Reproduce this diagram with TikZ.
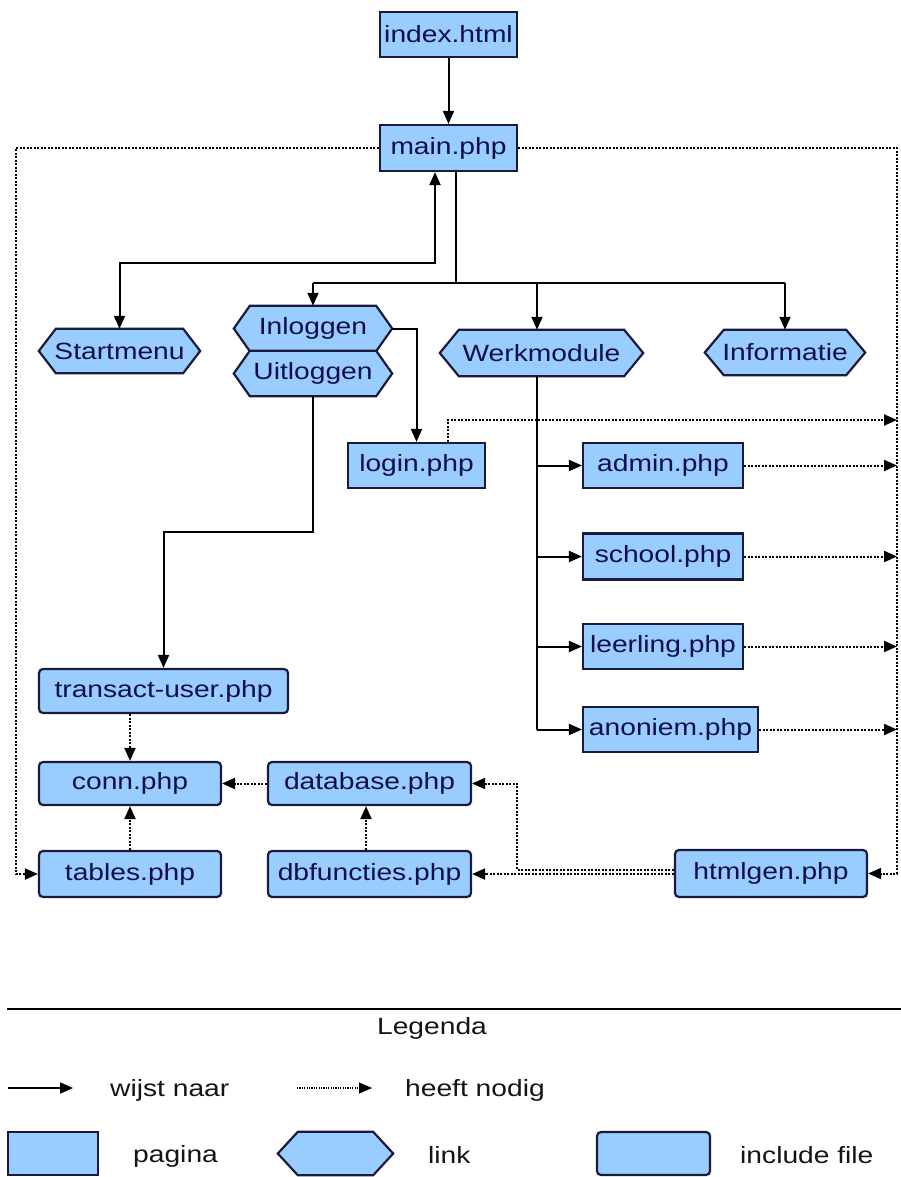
\documentclass[tikz,border=0pt]{standalone}
\usepackage{fontspec}
\setmainfont[FakeStretch=1.2]{Liberation Sans}
\usetikzlibrary{arrows.meta,backgrounds}
\definecolor{boxfill}{RGB}{153,204,255}
\definecolor{boxline}{RGB}{26,26,60}
\definecolor{boxtext}{RGB}{16,16,70}
\definecolor{legtext}{RGB}{20,20,20}
\tikzset{
  lbl/.style={font=\fontsize{23.5}{26}\selectfont, text=boxtext, inner sep=0pt},
  pagebox/.style={lbl, draw=boxline, fill=boxfill, line width=2.2pt, minimum height=45pt},
  incbox/.style={pagebox, rounded corners=4pt},
  linkbox/.style={lbl, minimum height=45pt},
  hexshape/.style={draw=boxline, fill=boxfill, line width=2.2pt, line join=miter},
  wire/.style={draw=black, line width=2pt},
  dep/.style={draw=black, line width=2pt, dash pattern=on 2pt off 1.5pt},
  tipend/.style={-{Triangle[length=13pt,width=11pt]}},
  tipboth/.style={{Triangle[length=13pt,width=11pt]}-{Triangle[length=13pt,width=11pt]}},
  legl/.style={font=\fontsize{23.5}{26}\selectfont, text=legtext, inner sep=0pt}
}
\newcommand{\hexpath}[2]{%
  \path[hexshape] (#1.west) -- ([xshift=#2]#1.north west) -- ([xshift=-#2]#1.north east)
    -- (#1.east) -- ([xshift=-#2]#1.south east) -- ([xshift=#2]#1.south west) -- cycle;}
\begin{document}
\begin{tikzpicture}[x=1pt,y=-1pt]
\useasboundingbox (0,0) rectangle (901,1177);

% page boxes
\node[pagebox, minimum width=137pt] (index) at (448.5,34.5) {index.html};
\node[pagebox, minimum width=137pt, minimum height=46pt] (main) at (448.5,148) {main.php};
\node[pagebox, minimum width=137pt] (login) at (416.5,465.5) {login.php};
\node[pagebox, minimum width=160pt] (admin) at (663,465.5) {admin.php};
\node[pagebox, minimum width=160pt, minimum height=46pt] (school) at (663,556.5) {school.php};
\node[pagebox, minimum width=160pt] (leerling) at (663,646.5) {leerling.php};
\node[pagebox, minimum width=175pt] (anoniem) at (670.5,729.5) {anoniem.php};

% include files
\node[incbox, minimum width=249pt, minimum height=44pt] (transact) at (163.5,691) {transact-user.php};
\node[incbox, minimum width=182pt, minimum height=43pt] (conn) at (130,783.5) {conn.php};
\node[incbox, minimum width=203pt, minimum height=43pt] (database) at (369.5,783.5) {database.php};
\node[incbox, minimum width=182pt, minimum height=46pt] (tables) at (130,874) {tables.php};
\node[incbox, minimum width=203pt, minimum height=46pt] (dbfun) at (369.5,874) {dbfuncties.php};
\node[incbox, minimum width=192pt, minimum height=47pt] (htmlgen) at (771,873.5) {htmlgen.php};

% links (hexagons)
\node[linkbox, minimum width=161pt, minimum height=44pt] (start) at (119.5,351) {Startmenu};
\node[linkbox, minimum width=158pt] (inl) at (313,328.5) {Inloggen};
\node[linkbox, minimum width=158pt] (uit) at (313,373.5) {Uitloggen};
\node[linkbox, minimum width=203pt, minimum height=46pt] (werk) at (541.5,353) {Werkmodule};
\node[linkbox, minimum width=160pt] (info) at (785,352.5) {Informatie};

\begin{scope}[on background layer]
  \hexpath{start}{17pt}
  \hexpath{inl}{16pt}
  \hexpath{uit}{16pt}
  \hexpath{werk}{19pt}
  \hexpath{info}{19pt}
\end{scope}

% helper coordinates
\coordinate (bus) at (456,283);
\coordinate (sy) at (0,263);
\coordinate (uy) at (0,532);
\coordinate (wx) at (537,0);
\coordinate (Lx) at (16,0);
\coordinate (Rx) at (897,0);
\coordinate (ly) at (0,420);
\coordinate (hx) at (517,0);

% solid connectors
\draw[wire, tipend] (index) -- (main);
\draw[wire, tipboth] (start.north) -- (start.north |- sy) -| ([xshift=-13.5pt]main.south);
\draw[wire] ([xshift=7.5pt]main.south) -- (bus);
\draw[wire] (inl.north |- bus) -- (info.north |- bus);
\draw[wire, tipend] (inl.north |- bus) -- (inl.north);
\draw[wire, tipend] (wx |- bus) -- (wx |- werk.north);
\draw[wire, tipend] (info.north |- bus) -- (info.north);
\draw[wire, tipend] (inl.east) -| (login.north);
\draw[wire, tipend] (uit.south) -- (uit.south |- uy) -| (transact.north);
\draw[wire] (wx |- werk.south) -- (wx |- anoniem.west);
\draw[wire, tipend] (wx |- admin.west) -- (admin.west);
\draw[wire, tipend] (wx |- school.west) -- (school.west);
\draw[wire, tipend] (wx |- leerling.west) -- (leerling.west);
\draw[wire, tipend] (wx |- anoniem.west) -- (anoniem.west);

% dotted connectors (heeft nodig)
\draw[dep, tipend] (main.west) -- (main.west -| Lx) -- (Lx |- tables.west) -- (tables.west);
\draw[dep, tipend] (main.east) -- (main.east -| Rx) -- (Rx |- htmlgen.east) -- (htmlgen.east);
\draw[dep, tipend] ([xshift=31.5pt]login.north) -- ([xshift=31.5pt]login.north |- ly) -- (Rx |- ly);
\draw[dep, tipend] (admin.east) -- (Rx |- admin.east);
\draw[dep, tipend] (school.east) -- (Rx |- school.east);
\draw[dep, tipend] (leerling.east) -- (Rx |- leerling.east);
\draw[dep, tipend] (anoniem.east) -- (Rx |- anoniem.east);
\draw[dep, tipend] (conn.north |- transact.south) -- (conn.north);
\draw[dep, tipend] (tables.north) -- (conn.south);
\draw[dep, tipend] (database.west) -- (conn.east);
\draw[dep, tipend] ([xshift=-3.5pt]dbfun.north) -- ([xshift=-3.5pt]database.south);
\draw[dep, tipend] ([yshift=4pt]htmlgen.west) -- ([yshift=4pt]htmlgen.west -| hx) -- (hx |- database.east) -- (database.east);
\draw[dep, tipend] (htmlgen.west |- dbfun.east) -- (dbfun.east);

% legend
\coordinate (lg1) at (7,1009);
\coordinate (lg2) at (901,1009);
\draw[line width=2pt] (lg1) -- (lg2);
\node[legl] (legenda) at (432,1028) {Legenda};

\coordinate (a1) at (8,1088);
\coordinate (a2) at (73,1088);
\draw[wire, line width=1.8pt, tipend] (a1) -- (a2);
\node[legl, anchor=west] (wn) at (110,1090) {wijst naar};
\coordinate (b1) at (297,1088);
\coordinate (b2) at (372,1088);
\draw[dep, line width=1.2pt, dash pattern=on 1.2pt off 1.2pt, tipend] (b1) -- (b2);
\node[legl, anchor=west] (hn) at (405,1090) {heeft nodig};

\node[pagebox, minimum width=90pt, minimum height=43pt] (lpage) at (53,1153.5) {};
\node[legl, anchor=west] (lpt) at (133,1156) {pagina};
\node[linkbox, minimum width=115pt, minimum height=43pt] (llink) at (335.5,1153.5) {};
\begin{scope}[on background layer]
  \hexpath{llink}{20pt}
\end{scope}
\node[legl, anchor=west] (llt) at (428,1155) {link};
\node[incbox, minimum width=113pt, minimum height=43pt] (linc) at (653.5,1153.5) {};
\node[legl, anchor=west] (lit) at (740,1155) {include file};
\end{tikzpicture}
\end{document}
